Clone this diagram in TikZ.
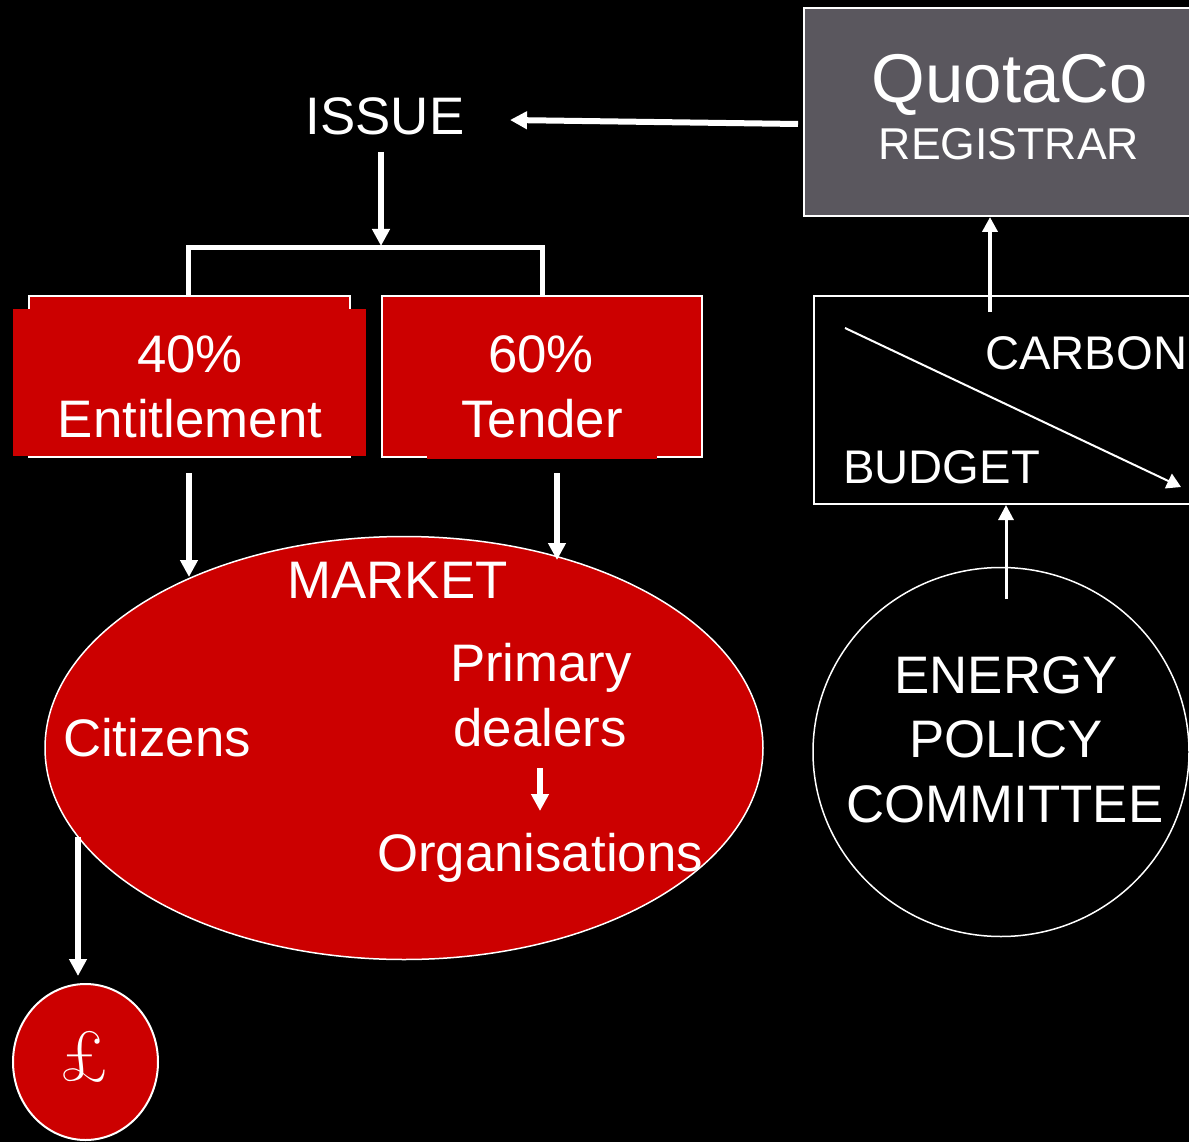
\documentclass[tikz,border=0pt]{standalone}
\usepackage{fontspec}
\setsansfont{Liberation Sans}
\usetikzlibrary{arrows.meta,shapes.geometric}
\definecolor{mred}{HTML}{CC0000}
\definecolor{qgray}{RGB}{90,87,94}
\newcommand\myfs[1]{\fontsize{#1}{#1}\selectfont}
\begin{document}
\begin{tikzpicture}[x=1pt,y=-1pt,
  txt/.style={text=white,inner sep=0pt,anchor=base},
  big/.style={font=\sffamily\myfs{52.8}},
  mid/.style={font=\sffamily\myfs{47.2}},
  shapebox/.style={inner sep=0pt,line width=2pt,draw=white},
  arr/.style={draw=white,line width=6pt,-{Triangle[length=17pt,width=17pt]}},
  thinarr/.style={draw=white,line width=#1,-{Triangle[length=15pt,width=15pt]}},
]
\path[fill=black,use as bounding box] (0,0) rectangle (1189,1142);
\begin{scope}
\clip (0,0) rectangle (1189,1142);

% QuotaCo registrar
\node[shapebox,fill=qgray,minimum width=391pt,minimum height=208pt] (quota) at (999.5,112) {};
\node[txt,font=\sffamily\myfs{69}] (quotaT) at (1010,103) {QuotaCo};
\node[txt,font=\sffamily\myfs{44.6}] (regT) at (1009,160) {REGISTRAR};

% ISSUE
\node[txt,big] (issue) at (385,135) {ISSUE};

% 40% Entitlement
\node[shapebox,fill=mred,minimum width=321pt,minimum height=161pt] (ent) at (189.5,376.5) {};
\fill[mred] (13,309) rectangle (366,456);
\node[txt,big] (entA) at (190,372) {40\%};
\node[txt,big] (entB) at (190,437) {Entitlement};

% 60% Tender
\node[shapebox,fill=mred,minimum width=320pt,minimum height=161pt] (ten) at (542,376.5) {};
\fill[mred] (427,440) rectangle (657,459);
\node[txt,big] (tenA) at (541,372) {60\%};
\node[txt,big] (tenB) at (542,437) {Tender};

% Market
\node[ellipse,inner sep=0pt,draw=white,line width=1.5pt,fill=mred,minimum width=718pt,minimum height=423pt] (market) at (404,748) {};
\node[txt,big] (mkT) at (397.5,598) {MARKET};
\node[txt,big] (cit) at (157,756) {Citizens};
\node[txt,big] (prim) at (541,681) {Primary};
\node[txt,big] (deal) at (540,746) {dealers};
\node[txt,big] (org) at (540,871) {Organisations};

% Pound
\node[ellipse,inner sep=0pt,draw=white,line width=2pt,fill=mred,minimum width=145pt,minimum height=156pt] (pound) at (85.5,1062) {};
\node[text=white,inner sep=0pt,font=\rmfamily\myfs{72}] (poundT) at (84,1057) {£};

% Carbon budget
\node[shapebox,minimum width=381pt,minimum height=208pt] (cb) at (1004.5,400) {};
\node[txt,mid,anchor=base west] (carb) at (985,369) {CARBON};
\node[txt,mid,anchor=base west] (budg) at (843,483) {BUDGET};

% Energy policy committee
\node[ellipse,inner sep=0pt,draw=white,line width=1.5pt,minimum width=376pt,minimum height=369pt] (epc) at (1001,752) {};
\node[txt,big] (epc1) at (1006,693) {ENERGY};
\node[txt,big] (epc2) at (1006,757) {POLICY};
\node[txt,big] (epc3) at (1005,822) {COMMITTEE};

% connector end points
\coordinate (qa) at (798,124);
\coordinate (ia) at (510,120);
\coordinate (is1) at (381,152);
\coordinate (br) at (381,246);
\coordinate (e1) at (189,473);
\coordinate (e2) at (189,577);
\coordinate (t1) at (557,473);
\coordinate (t2) at (557,560);
\coordinate (d1) at (540,768);
\coordinate (d2) at (540,811);
\coordinate (c1) at (78,837);
\coordinate (c2) at (78,976);
\coordinate (cb1) at (990,312);
\coordinate (cb2) at (990,217);
\coordinate (ep1) at (1006,599);
\coordinate (ep2) at (1006,505);
\coordinate (dg1) at (845,328);
\coordinate (dg2) at (1181,487);

% connectors
\draw[arr] (qa) -- (ia);
\draw[arr] (is1) -- (br);
\draw[white,line width=5pt] (188,297) |- (542,248) -- (542,297);
\draw[arr] (e1) -- (e2);
\draw[arr] (t1) -- (t2);
\draw[arr] (d1) -- (d2);
\draw[arr] (c1) -- (c2);
\draw[thinarr=4pt] (cb1) -- (cb2);
\draw[thinarr=3pt] (ep1) -- (ep2);
\draw[white,line width=2pt,-{Triangle[length=14pt,width=16pt]}] (dg1) -- (dg2);
\end{scope}
\end{tikzpicture}
\end{document}
